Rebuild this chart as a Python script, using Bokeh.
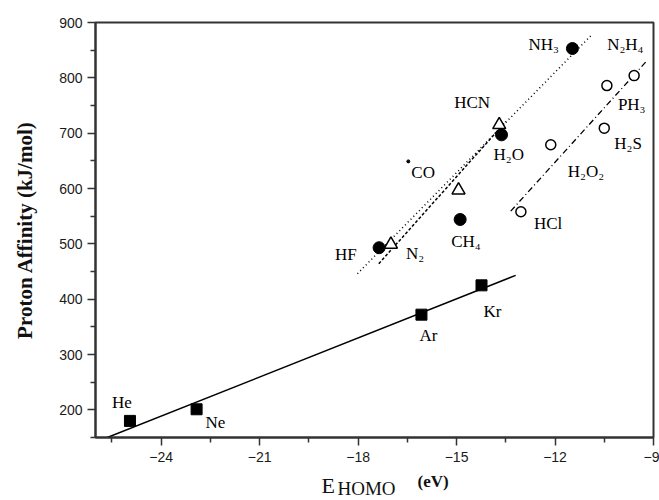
from bokeh.plotting import figure
from bokeh.layouts import column
from bokeh.models import ColumnDataSource, FixedTicker, Range1d
from bokeh.embed import file_html
from bokeh.resources import INLINE
from bokeh.core.properties import value

# ---------------- data ----------------
noble_names = ["He", "Ne", "Ar", "Kr"]
noble_e = [-24.95, -22.92, -16.07, -14.24]
noble_pa = [180, 201, 372, 425]
noble_fit_e = [-25.64, -13.2]
noble_fit_pa = [150, 443]

hyd_names = ["HF", "CH₄", "H₂O", "NH₃"]
hyd_e = [-17.36, -14.89, -13.63, -11.47]
hyd_pa = [493, 544, 697, 853]

tri_names = ["N₂", "", "HCN"]
tri_e = [-17.0, -14.94, -13.70]
tri_pa = [499, 597, 715]

co_names = ["CO"]
co_e = [-16.47]
co_pa = [649]

open_names = ["HCl", "H₂O₂", "H₂S", "PH₃", "N₂H₄"]
open_e = [-13.04, -12.13, -10.50, -10.42, -9.59]
open_pa = [558, 679, 709, 786, 804]

fit1_e = [-18.02, -10.86]
fit1_pa = [446, 879]
fit2_e = [-17.37, -13.50]
fit2_pa = [464, 721]
fit3_e = [-13.35, -9.23]
fit3_pa = [559, 829]

x_ticks = [-24, -21, -18, -15, -12, -9]
x_minor = [-25.5, -22.5, -19.5, -16.5, -13.5, -10.5]
y_ticks = [200, 300, 400, 500, 600, 700, 800, 900]
y_minor = [150, 250, 350, 450, 550, 650, 750, 850]

y_title = "Proton Affinity (kJ/mol)"
x_title_parts = ["E", "HOMO", "(eV)"]

# label offsets in pixels (style)
noble_dx = [-18, 9, -2, 2]
noble_dy = [-18, 13, 21, 26]
hyd_dx = [-44, -9, -8, -44]
hyd_dy = [7, 22, 20, -4]
tri_dx = [15, 0, -45]
tri_dy = [9, 0, -22]
co_dx = [3]
co_dy = [11]
open_dx = [13, 17, 10, 11, -27]
open_dy = [12, 27, 15, 19, -31]

SERIF = "Liberation Serif"
SANS = "Liberation Sans"
AX = "#333333"

FRAME_L, FRAME_R = 95, 653

p = figure(width=659, height=470, output_backend="svg", toolbar_location=None,
           x_range=Range1d(-26, -9), y_range=Range1d(150, 900),
           min_border_left=FRAME_L, min_border_right=659 - FRAME_R, min_border_top=22, min_border_bottom=33)
p.xgrid.visible = False
p.ygrid.visible = False
p.outline_line_color = AX
p.outline_line_width = 2
p.background_fill_color = "white"
p.border_fill_color = "white"

for ax in (p.xaxis[0], p.yaxis[0]):
    ax.axis_line_color = AX
    ax.axis_line_width = 2
    ax.major_tick_line_color = AX
    ax.minor_tick_line_color = AX
    ax.major_tick_line_width = 1.5
    ax.minor_tick_line_width = 1.5
    ax.major_tick_out = 8
    ax.major_tick_in = 0
    ax.minor_tick_out = 5
    ax.minor_tick_in = 0
    ax.major_label_text_font = SANS
    ax.major_label_text_font_size = "14px"
    ax.major_label_text_color = "#1a1a1a"

p.xaxis.ticker = FixedTicker(ticks=x_ticks, minor_ticks=x_minor)
p.yaxis.ticker = FixedTicker(ticks=y_ticks, minor_ticks=y_minor)
p.xaxis.major_label_standoff = 6
p.yaxis.major_label_standoff = 5

p.yaxis.axis_label = y_title
p.yaxis.axis_label_text_font = SERIF
p.yaxis.axis_label_text_font_style = "bold"
p.yaxis.axis_label_text_font_size = "21px"
p.yaxis.axis_label_text_color = "#111111"
p.yaxis.axis_label_standoff = 19

# fit lines
p.line(noble_fit_e, noble_fit_pa, line_color="black", line_width=1.5)
p.line(fit1_e, fit1_pa, line_color="black", line_width=1.5, line_dash="1 3")
p.line(fit2_e, fit2_pa, line_color="black", line_width=1.5, line_dash="3 2")
p.line(fit3_e, fit3_pa, line_color="black", line_width=1.3, line_dash="6 3 1 3")

# markers
p.scatter(noble_e, noble_pa, marker="square", size=11, fill_color="black", line_color="black")
p.scatter(hyd_e, hyd_pa, marker="circle", size=12, fill_color="black", line_color="black")
p.scatter(tri_e, tri_pa, marker="triangle", size=13, fill_color="white", line_color="black", line_width=1.5)
p.scatter(co_e, co_pa, marker="circle", size=3, fill_color="black", line_color="black")
p.scatter(open_e, open_pa, marker="circle", size=10, fill_color="white", line_color="black", line_width=1.5)

# labels
lab = ColumnDataSource(dict(
    x=noble_e + hyd_e + tri_e + co_e + open_e,
    y=noble_pa + hyd_pa + tri_pa + co_pa + open_pa,
    t=noble_names + hyd_names + tri_names + co_names + open_names,
    dx=noble_dx + hyd_dx + tri_dx + co_dx + open_dx,
    dy=noble_dy + hyd_dy + tri_dy + co_dy + open_dy,
))
p.text(x="x", y="y", text="t", x_offset="dx", y_offset="dy", source=lab,
       text_font=value(SERIF), text_font_size="17px", text_color="black",
       text_align="left", text_baseline="middle")

# x-axis title strip (E with subscript HOMO and bold (eV)); its frame aligns with p's frame
q = figure(width=659, height=30, output_backend="svg", toolbar_location=None,
           x_range=Range1d(FRAME_L, FRAME_R), y_range=Range1d(30, 0),
           x_axis_type=None, y_axis_type=None,
           min_border_left=FRAME_L, min_border_right=659 - FRAME_R, min_border_top=0, min_border_bottom=0)
q.xgrid.visible = False
q.ygrid.visible = False
q.outline_line_color = None
q.background_fill_color = "white"
q.border_fill_color = "white"
q.text(x=[321], y=[15], text=[x_title_parts[0]], text_font=value(SERIF), text_font_size="22px",
       text_color="#111111", text_baseline="alphabetic", text_align="left")
q.text(x=[337], y=[18], text=[x_title_parts[1]], text_font=value(SERIF), text_font_size="19px",
       text_color="#111111", text_baseline="alphabetic", text_align="left")
q.text(x=[417], y=[11], text=[x_title_parts[2]], text_font=value(SERIF), text_font_size="17px",
       text_font_style="bold", text_color="#111111", text_baseline="alphabetic", text_align="left")

open("out.html", "w").write(file_html(column(p, q, spacing=0), INLINE))
